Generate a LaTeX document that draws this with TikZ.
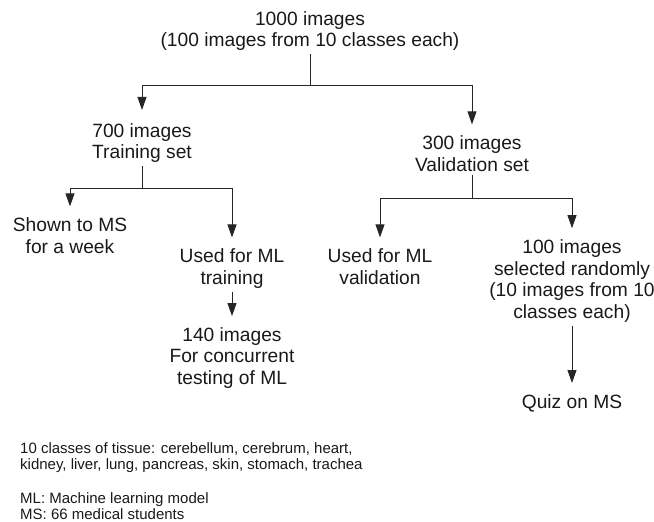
\documentclass[tikz,border=0pt]{standalone}
\usepackage{fontspec}
\setmainfont{Liberation Sans}
\usetikzlibrary{arrows.meta}
\begin{document}
\begin{tikzpicture}[x=1pt,y=-1pt,
  lbl/.style={align=center, font=\fontsize{19.2}{21.8}\selectfont, inner sep=3pt, text=black!90},
  note/.style={align=left, anchor=north west, font=\fontsize{15}{16.8}\selectfont, inner sep=0pt, text=black!90},
  conn/.style={line width=0.9pt, draw=black!85},
  arr/.style={conn, -{Triangle[length=13pt,width=9pt]}, shorten >=8pt}
]
\useasboundingbox (0,0) rectangle (654,522);
\node[lbl] (all) at (310,31) {1000 images\\(100 images from 10 classes each)};
\node[lbl] (train) at (142,143) {700 images\\Training set};
\node[lbl] (val) at (472,153.5) {300 images\\Validation set};
\node[lbl] (shown) at (70,235.5) {Shown to MS\\for a week};
\node[lbl] (mltrain) at (232,268.5) {Used for ML\\training};
\node[lbl] (test) at (232,358) {140 images\\For concurrent\\testing of ML};
\node[lbl] (mlval) at (380,266.5) {Used for ML\\validation};
\node[lbl] (sel) at (572,281) {100 images\\selected randomly\\(10 images from 10\\classes each)};
\node[lbl] (quiz) at (572,403) {Quiz on MS};
\node[note] (classes) at (20,442) {10 classes of tissue: cerebellum, cerebrum, heart,\\kidney, liver, lung, pancreas, skin, stomach, trachea};
\node[note] (abbr) at (20,492) {ML: Machine learning model\\MS: 66 medical students};

\coordinate (j1) at (310,85);
\coordinate (j2) at (142,188);
\coordinate (j3) at (472,198);
\draw[conn] (all.south) -- (j1);
\draw[arr, shorten >=10pt] (j1) -| (train.north);
\draw[arr] (j1) -| (val.north);
\draw[conn] (train.south) -- (j2);
\draw[arr] (j2) -| (shown.north);
\draw[arr] (j2) -| (mltrain.north);
\draw[arr] (mltrain.south) -- (test.north);
\draw[conn] (val.south) -- (j3);
\draw[arr] (j3) -| (mlval.north);
\draw[arr] (j3) -| (sel.north);
\draw[arr] (sel.south) -- (quiz.north);
\end{tikzpicture}
\end{document}
